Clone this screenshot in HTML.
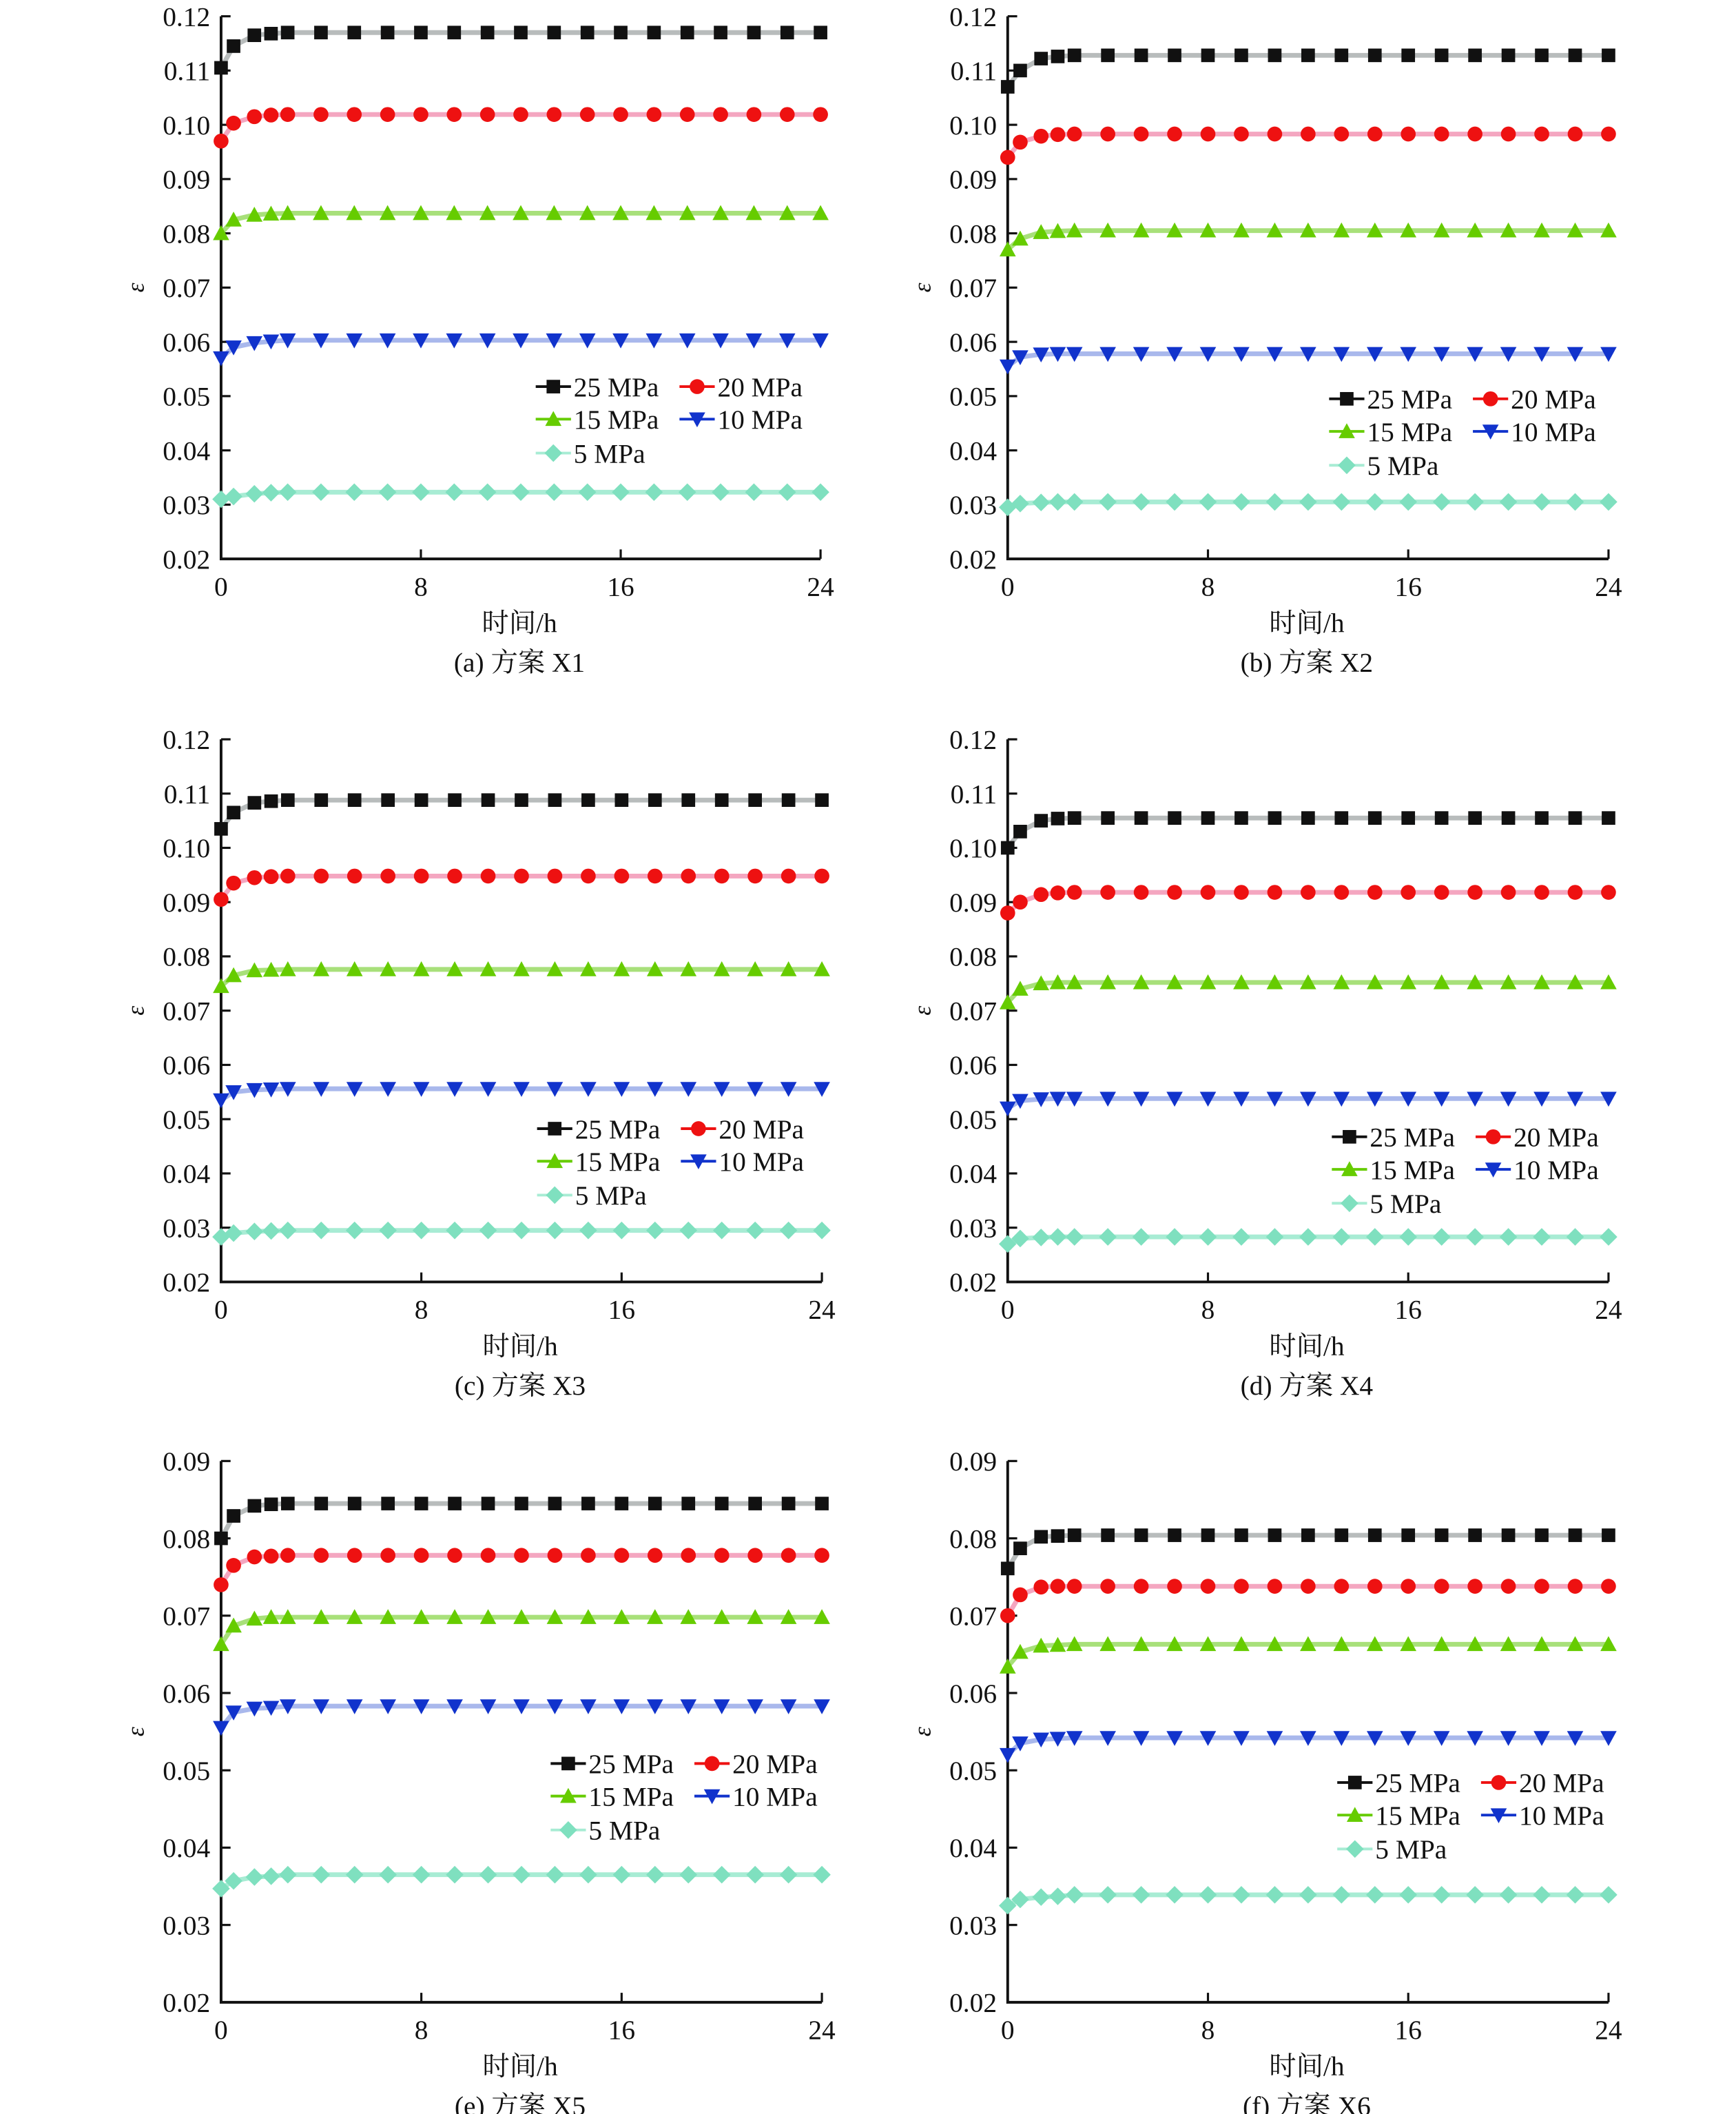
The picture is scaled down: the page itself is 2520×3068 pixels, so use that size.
<!DOCTYPE html>
<html><head><meta charset="utf-8">
<style>
html,body{margin:0;padding:0;background:#fff;}
svg{display:block;}
text{font-family:"Liberation Serif","Noto Serif CJK SC",serif;fill:#111;}
</style></head>
<body>
<svg id="fig" width="2520" height="3068" viewBox="0 0 1280 1558.35" xmlns="http://www.w3.org/2000/svg"></svg>
<script>
const times=[0,0.5,1.333,2,2.667,4,5.333,6.667,8,9.333,10.667,12,13.333,14.667,16,17.333,18.667,20,21.333,22.667,24];
const seriesLabels=["25 MPa","20 MPa","15 MPa","10 MPa","5 MPa"];
const xTicks=[0,8,16,24];
const yTicksA=[0.02,0.03,0.04,0.05,0.06,0.07,0.08,0.09,0.10,0.11,0.12];
const yTickLabelsA=["0.02","0.03","0.04","0.05","0.06","0.07","0.08","0.09","0.10","0.11","0.12"];
const yTicksB=[0.02,0.03,0.04,0.05,0.06,0.07,0.08,0.09];
const yTickLabelsB=["0.02","0.03","0.04","0.05","0.06","0.07","0.08","0.09"];
const captions=["(a) 方案 X1","(b) 方案 X2","(c) 方案 X3","(d) 方案 X4","(e) 方案 X5","(f) 方案 X6"];

const x1_25=[0.1105,0.1145,0.1165,0.1168,0.117,0.117,0.117,0.117,0.117,0.117,0.117,0.117,0.117,0.117,0.117,0.117,0.117,0.117,0.117,0.117,0.117];
const x1_20=[0.097,0.1003,0.1015,0.1018,0.1019,0.1019,0.1019,0.1019,0.1019,0.1019,0.1019,0.1019,0.1019,0.1019,0.1019,0.1019,0.1019,0.1019,0.1019,0.1019,0.1019];
const x1_15=[0.0800,0.0825,0.0834,0.0836,0.0837,0.0837,0.0837,0.0837,0.0837,0.0837,0.0837,0.0837,0.0837,0.0837,0.0837,0.0837,0.0837,0.0837,0.0837,0.0837,0.0837];
const x1_10=[0.0570,0.0590,0.0598,0.0601,0.0603,0.0603,0.0603,0.0603,0.0603,0.0603,0.0603,0.0603,0.0603,0.0603,0.0603,0.0603,0.0603,0.0603,0.0603,0.0603,0.0603];
const x1_5=[0.0310,0.0315,0.0320,0.0322,0.0323,0.0323,0.0323,0.0323,0.0323,0.0323,0.0323,0.0323,0.0323,0.0323,0.0323,0.0323,0.0323,0.0323,0.0323,0.0323,0.0323];

const x2_25=[0.107,0.110,0.1122,0.1126,0.1128,0.1128,0.1128,0.1128,0.1128,0.1128,0.1128,0.1128,0.1128,0.1128,0.1128,0.1128,0.1128,0.1128,0.1128,0.1128,0.1128];
const x2_20=[0.094,0.0968,0.0979,0.0982,0.0983,0.0983,0.0983,0.0983,0.0983,0.0983,0.0983,0.0983,0.0983,0.0983,0.0983,0.0983,0.0983,0.0983,0.0983,0.0983,0.0983];
const x2_15=[0.0770,0.0790,0.0802,0.0804,0.0805,0.0805,0.0805,0.0805,0.0805,0.0805,0.0805,0.0805,0.0805,0.0805,0.0805,0.0805,0.0805,0.0805,0.0805,0.0805,0.0805];
const x2_10=[0.0555,0.0572,0.0577,0.0578,0.0578,0.0578,0.0578,0.0578,0.0578,0.0578,0.0578,0.0578,0.0578,0.0578,0.0578,0.0578,0.0578,0.0578,0.0578,0.0578,0.0578];
const x2_5=[0.0295,0.0302,0.0304,0.0305,0.0305,0.0305,0.0305,0.0305,0.0305,0.0305,0.0305,0.0305,0.0305,0.0305,0.0305,0.0305,0.0305,0.0305,0.0305,0.0305,0.0305];

const x3_25=[0.1035,0.1065,0.1083,0.1086,0.1088,0.1088,0.1088,0.1088,0.1088,0.1088,0.1088,0.1088,0.1088,0.1088,0.1088,0.1088,0.1088,0.1088,0.1088,0.1088,0.1088];
const x3_20=[0.0905,0.0935,0.0945,0.0947,0.0948,0.0948,0.0948,0.0948,0.0948,0.0948,0.0948,0.0948,0.0948,0.0948,0.0948,0.0948,0.0948,0.0948,0.0948,0.0948,0.0948];
const x3_15=[0.0745,0.0765,0.0774,0.0775,0.0776,0.0776,0.0776,0.0776,0.0776,0.0776,0.0776,0.0776,0.0776,0.0776,0.0776,0.0776,0.0776,0.0776,0.0776,0.0776,0.0776];
const x3_10=[0.0535,0.0550,0.0554,0.0555,0.0556,0.0556,0.0556,0.0556,0.0556,0.0556,0.0556,0.0556,0.0556,0.0556,0.0556,0.0556,0.0556,0.0556,0.0556,0.0556,0.0556];
const x3_5=[0.0283,0.0290,0.0293,0.0294,0.0295,0.0295,0.0295,0.0295,0.0295,0.0295,0.0295,0.0295,0.0295,0.0295,0.0295,0.0295,0.0295,0.0295,0.0295,0.0295,0.0295];

const x4_25=[0.1000,0.1030,0.1050,0.1054,0.1055,0.1055,0.1055,0.1055,0.1055,0.1055,0.1055,0.1055,0.1055,0.1055,0.1055,0.1055,0.1055,0.1055,0.1055,0.1055,0.1055];
const x4_20=[0.0880,0.0900,0.0914,0.0917,0.0918,0.0918,0.0918,0.0918,0.0918,0.0918,0.0918,0.0918,0.0918,0.0918,0.0918,0.0918,0.0918,0.0918,0.0918,0.0918,0.0918];
const x4_15=[0.0715,0.0740,0.0750,0.0752,0.0752,0.0752,0.0752,0.0752,0.0752,0.0752,0.0752,0.0752,0.0752,0.0752,0.0752,0.0752,0.0752,0.0752,0.0752,0.0752,0.0752];
const x4_10=[0.0520,0.0534,0.0537,0.0538,0.0538,0.0538,0.0538,0.0538,0.0538,0.0538,0.0538,0.0538,0.0538,0.0538,0.0538,0.0538,0.0538,0.0538,0.0538,0.0538,0.0538];
const x4_5=[0.0270,0.0280,0.0282,0.0283,0.0283,0.0283,0.0283,0.0283,0.0283,0.0283,0.0283,0.0283,0.0283,0.0283,0.0283,0.0283,0.0283,0.0283,0.0283,0.0283,0.0283];

const x5_25=[0.0800,0.0829,0.0842,0.0844,0.0845,0.0845,0.0845,0.0845,0.0845,0.0845,0.0845,0.0845,0.0845,0.0845,0.0845,0.0845,0.0845,0.0845,0.0845,0.0845,0.0845];
const x5_20=[0.0740,0.0765,0.0776,0.0777,0.0778,0.0778,0.0778,0.0778,0.0778,0.0778,0.0778,0.0778,0.0778,0.0778,0.0778,0.0778,0.0778,0.0778,0.0778,0.0778,0.0778];
const x5_15=[0.0663,0.0687,0.0696,0.0698,0.0698,0.0698,0.0698,0.0698,0.0698,0.0698,0.0698,0.0698,0.0698,0.0698,0.0698,0.0698,0.0698,0.0698,0.0698,0.0698,0.0698];
const x5_10=[0.0555,0.0575,0.0580,0.0581,0.0583,0.0583,0.0583,0.0583,0.0583,0.0583,0.0583,0.0583,0.0583,0.0583,0.0583,0.0583,0.0583,0.0583,0.0583,0.0583,0.0583];
const x5_5=[0.0347,0.0357,0.0362,0.0363,0.0365,0.0365,0.0365,0.0365,0.0365,0.0365,0.0365,0.0365,0.0365,0.0365,0.0365,0.0365,0.0365,0.0365,0.0365,0.0365,0.0365];

const x6_25=[0.0761,0.0787,0.0802,0.0803,0.0804,0.0804,0.0804,0.0804,0.0804,0.0804,0.0804,0.0804,0.0804,0.0804,0.0804,0.0804,0.0804,0.0804,0.0804,0.0804,0.0804];
const x6_20=[0.0700,0.0727,0.0737,0.0738,0.0738,0.0738,0.0738,0.0738,0.0738,0.0738,0.0738,0.0738,0.0738,0.0738,0.0738,0.0738,0.0738,0.0738,0.0738,0.0738,0.0738];
const x6_15=[0.0634,0.0653,0.0661,0.0662,0.0663,0.0663,0.0663,0.0663,0.0663,0.0663,0.0663,0.0663,0.0663,0.0663,0.0663,0.0663,0.0663,0.0663,0.0663,0.0663,0.0663];
const x6_10=[0.0520,0.0535,0.0540,0.0541,0.0542,0.0542,0.0542,0.0542,0.0542,0.0542,0.0542,0.0542,0.0542,0.0542,0.0542,0.0542,0.0542,0.0542,0.0542,0.0542,0.0542];
const x6_5=[0.0325,0.0333,0.0336,0.0337,0.0339,0.0339,0.0339,0.0339,0.0339,0.0339,0.0339,0.0339,0.0339,0.0339,0.0339,0.0339,0.0339,0.0339,0.0339,0.0339,0.0339];

const panelData=[[x1_25,x1_20,x1_15,x1_10,x1_5],[x2_25,x2_20,x2_15,x2_10,x2_5],[x3_25,x3_20,x3_15,x3_10,x3_5],[x4_25,x4_20,x4_15,x4_10,x4_5],[x5_25,x5_20,x5_15,x5_10,x5_5],[x6_25,x6_20,x6_15,x6_10,x6_5]];

const lineCols=["#b8bcbc","#f4a6c0","#a8e07a","#a9b8ec","#a8ecd4"];
const markCols=["#111111","#ee1111","#66cc00","#1133cc","#7fe0bf"];
const markShapes=["square","circle","tri","itri","diamond"];

const layouts=[
 {x0:163,x1:605,yt:12,yb:412,ymin:0.02,ymax:0.12,leg:[395,285]},
 {x0:743,x1:1186,yt:12,yb:412,ymin:0.02,ymax:0.12,leg:[980,294]},
 {x0:163,x1:606,yt:545,yb:945,ymin:0.02,ymax:0.12,leg:[396,832]},
 {x0:743,x1:1186,yt:545,yb:945,ymin:0.02,ymax:0.12,leg:[982,838]},
 {x0:163,x1:606,yt:1077,yb:1476,ymin:0.02,ymax:0.09,leg:[406,1300]},
 {x0:743,x1:1186,yt:1077,yb:1476,ymin:0.02,ymax:0.09,leg:[986,1314]}
];
const NS="http://www.w3.org/2000/svg";
const svg=document.getElementById('fig');
function mk(tag,attrs,parent){const e=document.createElementNS(NS,tag);for(const k in attrs)e.setAttribute(k,attrs[k]);(parent||svg).appendChild(e);return e;}
function marker(shape,cx,cy,col,g){
 const s=5;let e;
 if(shape==="square")e=mk('rect',{x:cx-s,y:cy-s,width:2*s,height:2*s,fill:col},g);
 else if(shape==="circle")e=mk('circle',{cx:cx,cy:cy,r:s+0.5,fill:col},g);
 else if(shape==="tri")e=mk('polygon',{points:`${cx},${cy-s-1} ${cx+s+1},${cy+s} ${cx-s-1},${cy+s}`,fill:col},g);
 else if(shape==="itri")e=mk('polygon',{points:`${cx-s-1},${cy-s} ${cx+s+1},${cy-s} ${cx},${cy+s+1}`,fill:col},g);
 else e=mk('polygon',{points:`${cx},${cy-s-1.5} ${cx+s+1.5},${cy} ${cx},${cy+s+1.5} ${cx-s-1.5},${cy}`,fill:col},g);
 return e;
}
layouts.forEach((L,p)=>{
 const g=mk('g',{});
 
 
 const xs=t=>L.x0+(t/24)*(L.x1-L.x0);
 const ys=v=>L.yb-(v-L.ymin)/(L.ymax-L.ymin)*(L.yb-L.yt);
 const yT=L.ymax>0.1?yTicksA:yTicksB, yL=L.ymax>0.1?yTickLabelsA:yTickLabelsB;
 // axes
 const ax=mk('path',{d:`M${L.x0},${L.yt} V${L.yb} H${L.x1}`,stroke:'#111','stroke-width':2,fill:'none'},g);
 
 
 yT.forEach((v,i)=>{
  mk('line',{x1:L.x0,x2:L.x0+7,y1:ys(v),y2:ys(v),stroke:'#111','stroke-width':1.6},g);
  const t=mk('text',{x:L.x0-8,y:ys(v)+7,'text-anchor':'end','font-size':20},g);
  t.textContent=yL[i];
  
  
 });
 xTicks.forEach(v=>{
  mk('line',{x1:xs(v),x2:xs(v),y1:L.yb,y2:L.yb-7,stroke:'#111','stroke-width':1.6},g);
  const t=mk('text',{x:xs(v),y:L.yb+27,'text-anchor':'middle','font-size':20},g);
  t.textContent=String(v);
  
  
 });
 const yt=mk('text',{x:0,y:0,'text-anchor':'middle','font-size':18,'font-style':'italic',transform:`translate(${L.x0-57},${(L.yt+L.yb)/2}) rotate(-90)`},g);
 yt.textContent='ε';
 
 
 const xt=mk('text',{x:(L.x0+L.x1)/2-1,y:L.yb+54,'text-anchor':'middle','font-size':20},g);
 xt.textContent='时间/h';
 
 
 const cp=mk('text',{x:(L.x0+L.x1)/2-1,y:L.yb+83,'text-anchor':'middle','font-size':20},g);
 cp.textContent=captions[p];
 
 
 // series
 panelData[p].forEach((arr,si)=>{
  const sg=mk('g',{},g);
  
  
  const pts=arr.map((v,i)=>xs(times[i]).toFixed(2)+','+ys(v).toFixed(2)).join(' ');
  mk('polyline',{points:pts,fill:'none',stroke:lineCols[si],'stroke-width':3.5},sg);
  arr.forEach((v,i)=>{
   const m=marker(markShapes[si],xs(times[i]),ys(v),markCols[si],sg);
   
   
  });
 });
 // legend
 const lg=mk('g',{},g);
 
 
 const [lx,ly]=L.leg;
 const pos=[[0,0],[106,0],[0,24],[106,24],[0,49]];
 const legLine=["#111","#ee1111","#66cc00","#1133cc","#a8ecd4"];
 seriesLabels.forEach((lab,si)=>{
  const e=mk('g',{},lg);
  
  
  const bx=lx+pos[si][0], by=ly+pos[si][1];
  mk('line',{x1:bx,x2:bx+26,y1:by,y2:by,stroke:legLine[si],'stroke-width':2},e);
  marker(markShapes[si],bx+13,by,markCols[si],e);
  const t=mk('text',{x:bx+28,y:by+7,'font-size':20},e);
  t.textContent=lab;
 });
});
</script>
</body></html>
